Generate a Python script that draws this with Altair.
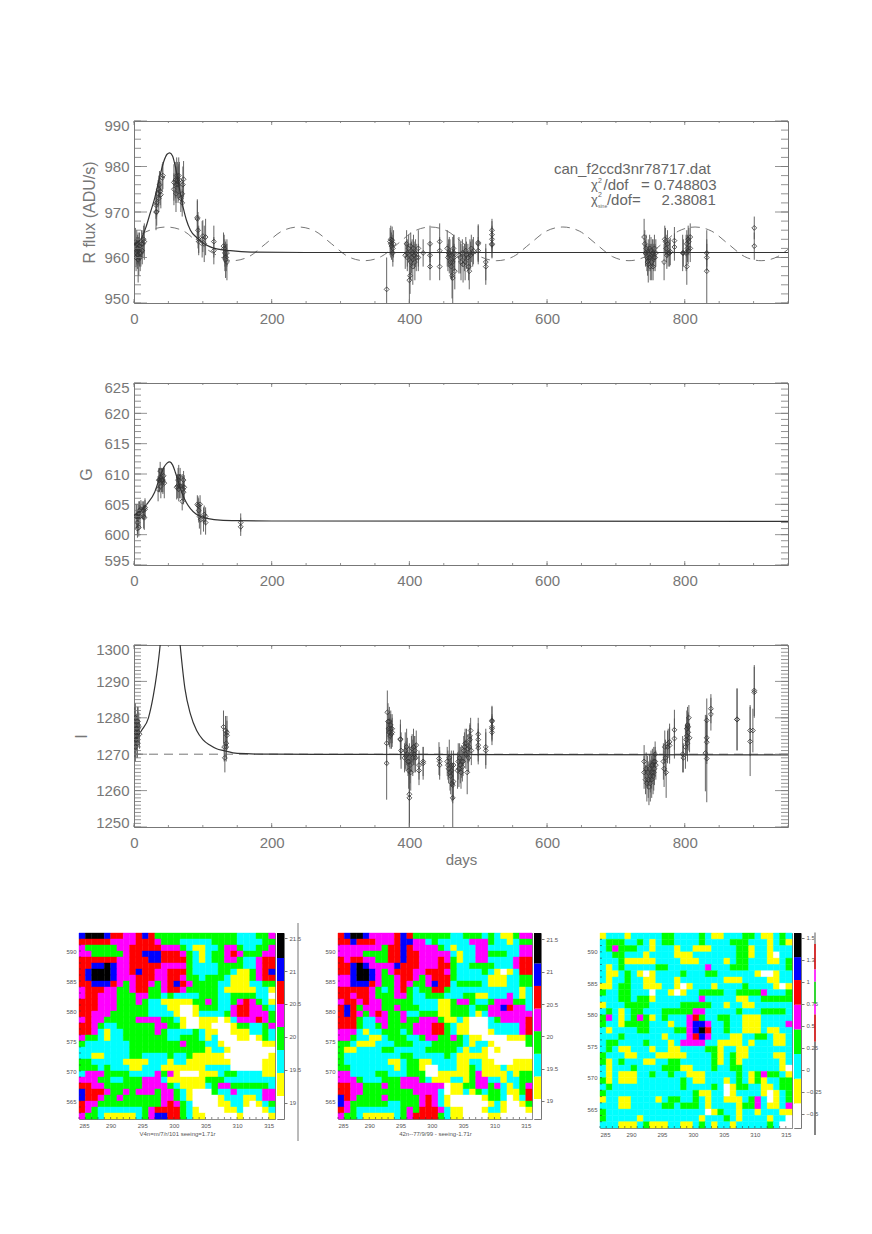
import altair as alt
import pandas as pd

# ---------- R band (x, value, error) ----------
R_pts = [(2,963.5,3),(3,961,3),(3,960,3),(4,963,3),(4,961.5,3),(5,962,3),(5,960.5,3),(6,962,3.5),(6,959.5,5),(7,961.5,3),(7,960,4),(8,962.5,3),(8,961,3),(9,960,3),(10,961,3),(11,963,3),(12,961.5,3),(13,963,3),(14,964,3),(15,963.5,4),
(32,970,4),(32,971.5,3),(33,972,3),(33,970,3),(35,974,3),(36,975,3),(36,973,3),(37,976,3),(38,974.5,3),(39,973.8,3),(41,977.5,3),(42,978,3),
(58,976.5,4),(58,975,3.5),(60,977,4),(61,974,4),(61,976,4),(62,978,4),(63,977,4),(64,976,4),(65,978,4),(65,976.5,4),(66,977,4),(68,973,3),(70,974,3),(70,972,3),(71,976,4),(72,977.2,4),
(92,968.8,4),(92,968.5,4),(93,966,4),(94,964,3),(94,963.5,3),(99,964,4),(100,964.7,3.5),(102,963,4),(104,964.5,4),(116,963.5,3.5),(116,961.5,3),
(130,962.5,3),(131,962,3),(132,961,3),(132,960,3),(133,959.5,4),(134,960,3),(135,959,4),(135,961,3),
(367,953,7),(372,963.5,3),(373,964,3),(373,963,3),(374,962.5,3),(375,963.8,3),(376,961,3),(376,962,3),(377,963,3),
(394,960.5,3),(396,963,3),(397,961,3),(397,960,3),(399,962,3),(400,955,7),(401,956,4),(402,959,4),(402,962.5,3),(403,960,3.5),(404,961,3),(405,958,4),(406,962,3),(407,960.5,3),(408,959,4),(409,961,3),(410,960,3),
(413,962,4),(413,960,3),(420,961,3),(430,963,4),(430,960.5,3),(430,958,3),(444,963.5,4),(444,961.5,3),(444,958,3),
(455,962,4),(456,960,3),(457,961,3),(458,960.5,4),(459,961,3),(460,959,3),(461,958,3),(462,956,5),(463,959,3),(463,955.5,9),(464,962,3),(465,961,4),(465,960,3),(466,957,4),
(472,960.5,4),(474,960,3.5),(475,959,4),(477,961,3),(478,958.5,4),(480,960,3),(481,959,4),(482,961.5,3),(483,960.5,3),(485,960,3),(486,958,3),(487,957,4),(488,961,3),(489,960.5,3),(490,962,3),(492,961,3),(493,961.5,3),
(500,963,4),(500,963.3,4),(500,961.5,3),(511,959,4),(511,958,4),(520,966,2.5),(520,965,3),(520,964,3),(520,963,3),(520,962.8,3),
(741,964.5,4),(742,963,3),(743,961,3),(744,962,3),(745,960,3),(746,959,3),(747,961,3),(747,958.5,4),(748,960,3),(749,962,3),(750,958,3),(750,960,3),(751,961.5,3),(752,959,4),(753,961,3),(754,958,3),(754,961,3),(755,960,3),(756,962,3),(757,960,3),(758,961,3),
(770,959,4),(771,964,3),(772,963.5,3),(773,962,3),(774,960.5,3),(775,963,3),(776,961,3),(778,961,3),(779,961.3,3),(785,963.7,3),(785,962.3,3),
(797,961,4),(798,961,3),(802,961,4),(803,958,4),(803,963,3),(804,962,3),(805,964,3),(805,961.5,3),(806,963.5,3),(808,964.5,3),(808,962,3),
(832,961,3),(832,960,3),(832,957,9),(901,966.5,2.5),(901,962.5,3)]

# ---------- G band ----------
G_pts = [(3,603,2),(4,603,2),(5,602,2),(5,601,1.5),(6,603,2),(7,601.2,1.5),(7,603.5,2),(8,604,1.5),(9,603,2),(10,604.2,1.5),(12,604,1.5),(14,604,1.5),(14,603,2),(15,602.8,2),(16,604.2,1.5),(16,604.5,1.5),
(35,607.5,2),(36,609,2),(37,609,2),(38,610.5,1.5),(38,609.5,1.5),(39,608,2),(40,609,2),(41,609,2),(42,609,2),(42,608.7,2),(43,609.7,1.5),(44,608.5,2.5),
(62,607.8,2),(63,608,2),(64,609,2),(65,607.5,2),(65,609.5,2),(66,608,2),(67,609.5,1.5),(68,608,2),(70,605.5,1.5),(71,608,2),(71,607.5,2),(72,609,1.5),(72,607,2),(73,607.8,2),
(92,605,1.5),(93,604.8,1.5),(94,604,2),(95,603,2),(96,605,1.5),(97,602.5,2.5),(101,602.5,2),(102,603.3,1.5),(104,602,2),(104,603,1.5),(155,602,1.5),(155,601.3,1.5)]

# ---------- I band ----------
I_pts = [(1,1278,5),(1,1275,6),(2,1272,4),(2,1280,4),(3,1276,5),(3,1274,5),(4,1277,4),(4,1275,4),(5,1279,4),(5,1273,4),(6,1276,4),(6,1278,5),(7,1277.5,4),(8,1275.5,4),
(130,1277.5,4.5),(131,1272,4),(132,1269,4),(133,1276.5,4),(134,1272,4),(134,1273,4),(135,1276,4.5),(135,1275.2,4),
(367,1273,6),(367,1267.5,10),(368,1281.5,6),(369,1279,5),(370,1277,4.5),(371,1279,4),(371,1276,4),(372,1275,3.5),(373,1278,4),(373,1277,4),(374,1275.5,4),(375,1277,4),(375,1276,4),
(387,1274,5.5),(387,1274.2,4),(388,1271,5),(393,1269,4),(394,1271,5),(395,1269.5,4),(396,1272,5),(397,1270,4.5),(398,1268,4),(399,1265.5,5),(400,1268,5),(400,1259,8.5),(400,1258,8.5),(401,1267,5),(402,1265,5),(403,1270,5),(404,1271.5,4),(405,1269,5),(406,1272,5),(407,1270,5),(408,1271,4),(409,1269,4),(410,1272.5,4),
(414,1267,4),(414,1265.5,4),(420,1267.5,4.5),(420,1268,4),(443,1268.8,4.5),(444,1268,4),(444,1267,4),
(455,1268,4),(456,1267,4),(457,1266,4),(458,1269,5),(459,1265,5),(460,1264,5),(461,1265.5,4.5),(461,1267,4),(462,1262,5),(463,1261.5,5),(463,1258,9.5),(464,1267,4),(464,1262.5,5),
(470,1265.5,5),(471,1268,5),(472,1266,5),(473,1269,4),(474,1267,5),(475,1265,4.5),(476,1268,4.5),(477,1266.5,4),(478,1268,4),(479,1271,4),(480,1272,4),(481,1273,4),(482,1270,4),(483,1273,4),(484,1265,6),(485,1271.5,4),(486,1269,4),(487,1272,4),(488,1275,3.5),(488,1274,4),(489,1276.5,3.5),(490,1271,4),
(500,1275.5,4.5),(500,1274,4.5),(500,1272.5,4.5),(500,1271.7,4.5),(511,1272,5),(511,1271,5),(520,1279.3,4),(520,1279,4),(520,1277.5,3.5),(520,1277,3.5),(520,1276,3.5),
(741,1268,4.5),(741,1265,4.5),(743,1263,4),(744,1266,4.5),(745,1262,5),(746,1265,4.5),(747,1263,5),(748,1261,5),(749,1266,4),(750,1264,4.5),(750,1262,5),(751,1267,4),(752,1263,5),(752,1265,4.5),(753,1267,4.5),(754,1264,5),(755,1268,4),(755,1265,5),(756,1266,4.5),(757,1268,4),(757,1270,3.5),(758,1267,4),
(769,1268,5),(770,1266,5),(771,1272,4.5),(772,1269,5),(773,1265,7),(775,1272,4.5),(776,1273,4),(778,1273.4,5),(778,1272.4,5),(785,1276.7,5.5),(785,1274.3,5.5),
(797,1270,5),(798,1269,4),(801,1272,6),(802,1274,4.5),(803,1277,5),(803,1275,5),(804,1278,5),(804,1273,5),(805,1276,5),(805,1277.5,4),(806,1280,3.5),(807,1274.5,4),
(830,1270.3,10.5),(832,1279.3,6),(832,1274.5,6),(832,1273.3,6),(832,1268.8,12),(838,1282.5,4),(838,1281,4.5),(876,1279.5,8.5),(876,1279.6,8.5),(895,1276.5,7),(895,1273.5,9.5),(899,1276.5,6),(901,1287.5,7),(901,1287,7)]

# ---------- model curves ----------
R_cx = [0,5,11,17,23,30,37,43,48,52,56,60,65,70,76,82,91,100,110,120,140,170,250,950]
R_cy = [962.7,963.3,964.3,966.5,969.5,973,977.5,981,982.7,983,982.3,980,976,972,968.3,966,964.4,963.2,962.4,961.9,961.5,961.2,961.1,961.1]
R_sx = [11,23,47,71,95,119,143,167,191,215,239,263,287,311,335,359,383,407,431,455,479,503,527,551,575,599,623,647,671,695,719,743,767,791,815,839,863,887,911,935,950]
R_sy = [965.2,966.0,966.7,965.9,963.0,960.6,959.3,960.2,963.0,965.8,966.7,965.8,963.0,960.2,959.3,960.2,963.0,965.8,966.7,965.8,963.0,960.2,959.3,960.2,963.0,965.8,966.7,965.8,963.0,960.2,959.3,960.2,963.0,965.8,966.7,965.8,963.0,960.2,959.3,960.2,961.8]
G_cx = [0,10,20,30,37,43,48,52,56,60,65,70,76,82,90,100,110,125,150,200,950]
G_cy = [603.2,604,605.2,607,609.3,611,611.8,612,611.5,610.3,608.5,606.8,605.3,604.3,603.4,602.9,602.6,602.4,602.3,602.25,602.2]
I_cx = [0,11,21,28,33,38,44,52,60,67,74,82,91,100,110,120,130,150,200,950]
I_cy = [1273.5,1276.5,1280,1286,1292,1300,1315,1325,1315,1300,1288,1281,1276.5,1274,1272.5,1271.5,1271,1270.2,1270,1269.8]
I_dx = [0,950]
I_dy = [1270,1270]

# ---------- ticks ----------
x_major = [0,200,400,600,800]
x_minor = list(range(0,951,50))
R_yticks = [950,960,970,980,990]
R_yminor = list(range(950,991,2))
G_yticks = [595,600,605,610,615,620,625]
G_yminor = list(range(595,626,1))
I_yticks = [1250,1260,1270,1280,1290,1300]
I_yminor = list(range(1250,1301,1))

# ---------- annotation ----------
NB = "\u00a0"
ann_x = [610,664,674,682,664,674,674,687]
ann_y = [979.4,975.9,976.9,975.9,972.6,973.7,971.4,972.6]
ann_t = ["can_f2ccd3nr78717.dat","\u03c7","2",f"/dof{NB}{NB}{NB}={NB}0.748803","\u03c7","2","sine",f"/dof={NB}{NB}{NB}{NB}{NB}2.38081"]
ann_s = [15,13,7,15,13,7,5,15]

# ---------- heat maps: one letter per level ----------
H1 = ["BKKKBRRMMRBRGGGGGGGGGGGGGCCCGGM","RRRRRMMMMRRRMGGGCCCCCGGGGCCCCGG","MGGGGGMMRRRRRMMMGCYYCCGMMGCCGGM","MMGGGGGMRRBBBRRRMGCYCGGMRMGGGMM","RRRRRRMMRRRBBRRRRGCYCGGMMGCCMRR","RRBBKBMMRRRRRMMMMGCCCCGGGGCCMRR","RBKKKBMMRBRRMMRRRGCCCCGGCYYGMRB","RBKKKBMMMRRRMMRRMGGCGGGCYYYGMRR","RRBBBRMGMRRMGMRBRMGGGGCCYYYCCGG","MRRRMMGGMRRGGMRRMGGGGGCYYYYYCCY","MRRMMMGGGMMGGCGCCCCGGGCCGGGGCCW","RRRMMMGGGMGCCYYYYYGGMGCCGMRMGCY","RRRMMMGGGGGCCCYYWWYGGGCCMRRMMGC","RRMMMGGGGGGCCCCYWWYCCCCGMRRMMMG","MRMMGGGGGMMMMGGCYWWYYYWYCMMMRMG","RRMGCCGGGGGGMMGGYWWYYWWWYGGCCGM","RRMCYCCGGGGGMGCCCCGCYYWWYYYCCGC","MGGCYCCGGGGGGGCCGGGCYCWWWYYWYGC","GCCCCCCCGGGGGGGGMGGGCCYWWWWWWYY","CCCCCCCCGGGGGGGGGGGGYCCYWWWWWWW","CCYYCCCCGGCCCCGCCGYYYYYWWWWWWWY","GGCCCCCYYYYCCCYCCYYYYYYYWWWWWYY","GGGCGCCCYYCCCYYYYYYYCCCCWWWWWYY","CMMMGGGGCCCCMGMYWWWYYYCGGCCCCYY","MMMGGCCGGGMMMCYYYYYYGGGCCCCCCCC","RRMMGGGGGGMMMMGCYYYYCGMMGGGGGGC","BRRRMGGMGMMMGMMGCYWWWGCCMCCCCMM","BRRMGGMGGGGGGMMGCYWWWWYCCCYYCMM","RMMGGGGGGGGGGMRMGCWWWWYYCCYWYCG","RMGCCCCCCCGMRRRRGCYWWWWYYCWWWYC","MGGCYYYYYCGMBBRRGCYYWWWWWYWWWWY"]
H2 = ["RBKKBMMMMRBRGGGGGGCCGGGCGCYYGMM","RRBRRRMMMRBBMMCGCCCCCMMMGCCYCGG","MMMMMMMGRRBRMMMMGCYCCCMMCCCCCMM","MMMMGGGGRRBRRMMMMMCYCCMMGGGCCMM","RMRRMMGGRRBRRMMMRMGYCCMMCCCCMRR","RRBKBMMMMBRRRMMMRRGCCGGGGCCCMRR","RRBKKBMGMRRRMMRRRMGCCCCGCYWYCRR","MMBKKBMGGMRRMGMRRRGCCCCCYYYCCGG","MMBBBRMGGMRMGGMBRRCGGGGCYYYCCGG","RRRRRMGCGMRGCGGRRGCCCCCCCCCCCYC","RRMRRMGGGMMGCCGGGCCCGGYYCCCMCYC","MRRMRMMGGGGGCCCCYYGMMGCCGMMMGGC","RBRGMMMGGMGGGCCCYYGGGCGGMMBRMMC","RBRMGMRMGGMCCGGGYYGGGCYCMMMMMMM","RRRGCCMMGGMGGMMMGYYCYWWWCGMMMMR","RRRGCCGMGGGGMMMRRGCYYWWWCCCCCMR","MMMCYCCGGGCGMMMRRGCYYWWWYCCCCMR","MMGCCYYCGGGCCGMMGGMGCYYWWWWYYYG","GGCYYYCCCGGGCCCGGGGGCYCCYWWWWWG","GYYCCCCGGCCCCCGGGGGCYCCYWYWWWWW","GCCCCCCCCCGGCCCCCGCYYYYYWWWWWWW","GCCCCCCCYYCGGYYCCCCYYCCYYWWWYYY","GGCCCCCCCYCGGYWWCCCYYGCYYYCYYYY","MMCCCCGGCCCGGGWWYYYYYGMYYYYCYGG","MMMGCCCGGGMMMGCYYYCCYGMMCCYCCGG","RRMMGGGMGGMMMMMMMWYYGGMMGMCYCGM","RRMMGGGGGGGGMMMMCWYYCYGCGGCYYGR","BRMGGGGMGGGGGMRMCYWWWWWYGGCWYCR","BMGGGGGGCCGGGMRMCYWWWWWWYCYWWYG","RMGCCCCCCCGMGRRRMCYYWWWYCCYWWWY","MGGCYYYYYCGMRRRRGCYYWWWWYYWWWWW"]
H3 = ["YCCCYCCCCCGGCCCCGCYYCCCGGCYYCGC","CGGGCCGCYCGGCCCCGCCCCGGGCCCYCGY","CGMGGGCCYCCCYCCYYYCCCCGGYCCYCCC","CCGGCCCYCCCCYYYCCCCCCCGGYCCYWCC","CCCGYYYYYCCCCYYYCCCCYCGGCCCYYCG","CYCGCCCCCGGCCCCCCMCCCGGGCCCCCCG","CYYCGCYWYCCCCGCCCGGCCCCCCYWWYCC","CYCCGCCYYCCCYCCCCCCCYYYCCCCYYCC","YYCGGCCYYYCCYWYCCCYCCCCGCCCCYWY","GCCGGCCCWCCYWYCCGGGGCCGGGGMCCCG","CCCGGCGGYCCCCCCCMCCCCCYYCCGGGGG","YCCCGGGGCCCCCGGGGGCCYCCYYCCCCCC","CGCYCGGCCCGGGGGMMCCCCCGCCCGGGGC","GMCYCGMGYCGCCCMRGCCGGCCYYYCCCCC","GCCYGGGGCCCYCCMBBMCCGCCYYYCCCCM","CYCCCCGGCCCCGGMBKRCCGCCYYYCYYCC","CCCGCCCCCCYCCCMRBMCCCYYCCGGCYYC","CGGCCCCGCCCYCMMMMCCYYYYCYCCCYYC","CGCYYCCCYCCYYCCCCGGYCCYYCCCCCCC","GCCCYYCCCYYYYYCCCCGYCGYYCCCCYYC","GYCGCCCYYCCGGCCCCCGYCGYCCCCCCYC","CYCCCGCCCCGGGYYCCCGCCGGCCCCCCYW","CYCYYYCCGCCGCCYYYCCCCCGCYGMGGCY","GYCYYYCCCCCCCGCYYCCCYCGCYGYCCGG","CGCCCCCCCCCCCGCCCCGCWYGGCCYYCGG","GCCCCCCCCCCCCCCGYYCCWYCCCCYWYCG","YCCYYCCCCYCGGCCGCYCCYYYCGMCWYCG","CCCYYCCCCCGGCGGGCYCCCCYGGMCYYCM","GCCCCCCCCCCCCCCCCWYGCCYCCYCCCYY","GCCCCCYCCCCCCCCCYCCCGCYCCCCYCCW","CCCYYYCGYYYCCYYCGCYCCYCCCCCGCWW"]

levels = ["W","Y","C","G","M","R","B","K"]
level_colors = ["#ffffff","#ffff00","#00ffff","#00ff00","#ff00ff","#ff0000","#0000ff","#000000"]
heat_xticks = [285,290,295,300,305,310,315]
heat_yticks = [565,570,575,580,585,590]
heat_xminor = list(range(285,316))
heat_yminor = list(range(563,593))
cb1_edges = [18.75,19.10,19.45,19.80,20.15,20.50,20.85,21.20,21.58]
cb1_ticks = [19,19.5,20,20.5,21,21.5]
cb1_dom = [18.75,21.58]
cb2_edges = [18.72,19.03,19.38,19.73,20.08,20.43,20.78,21.13,21.6]
cb2_ticks = [19,19.5,20,20.5,21,21.5]
cb2_dom = [18.72,21.6]
cb3_edges = [-0.66,-0.38,-0.10,0.18,0.46,0.74,1.02,1.28,1.554]
cb3_ticks = [-0.5,-0.25,0,0.25,0.5,0.75,1,1.25,1.5]
cb3_dom = [-0.66,1.554]
stripe_lo = [1.43,1.14,1.0,0.75,0.63,0.32,-0.74]
stripe_hi = [1.56,1.43,1.14,1.0,0.75,0.63,0.32]
stripe_c = ["#999999","#cc0000","#ff00ff","#00cc00","#ff00ff","#cc0000","#666666"]
captions = ["V4n=m/7/r/101    seeing=1.71r","42n--77/9/99 - seeing-1.71r",""]

INK = "#777777"
FONT = "Liberation Sans"
W, H = 654, 182

def ticks_layers(yscale, xscale, ymaj, ymin):
    out = []
    for vals, ln in ((ymin, 7), (ymaj, 13)):
        d = pd.DataFrame({"v": vals})
        out.append(alt.Chart(d).mark_rule(color=INK, strokeWidth=0.8).encode(
            y=alt.Y("v:Q", scale=yscale, axis=None), x=alt.value(0), x2=alt.value(ln)))
        out.append(alt.Chart(d).mark_rule(color=INK, strokeWidth=0.8).encode(
            y=alt.Y("v:Q", scale=yscale, axis=None), x=alt.value(W - ln), x2=alt.value(W)))
    for vals, ln in ((x_minor, 2), (x_major, 4)):
        d = pd.DataFrame({"v": vals})
        out.append(alt.Chart(d).mark_rule(color=INK, strokeWidth=0.8).encode(
            x=alt.X("v:Q", scale=xscale, axis=None), y=alt.value(H - ln), y2=alt.value(H)))
        out.append(alt.Chart(d).mark_rule(color=INK, strokeWidth=0.8).encode(
            x=alt.X("v:Q", scale=xscale, axis=None), y=alt.value(0), y2=alt.value(ln)))
    return out

def panel(pts, cx, cy, dx, dy, ydom, ymaj, ymin, ytitle, tx, xtitle=None, extra=None):
    xscale = alt.Scale(domain=[0, 950], nice=False, zero=False)
    yscale = alt.Scale(domain=ydom, nice=False, zero=False)
    df = pd.DataFrame(pts, columns=["x", "y", "e"])
    df["lo"] = df.y - df.e
    df["hi"] = df.y + df.e
    xax = alt.Axis(values=x_major, format="d", ticks=False, domain=False, grid=False, labelFont=FONT,
                   labelFontSize=15, labelColor=INK, labelPadding=8, labelFlush=False, title=xtitle,
                   titleFont=FONT, titleFontSize=15, titleColor=INK, titleFontWeight="normal", titlePadding=2)
    yax = alt.Axis(values=ymaj, format="d", ticks=False, domain=False, grid=False, labelFont=FONT,
                   labelFontSize=15, labelColor=INK, labelPadding=5, labelFlush=True, labelFlushOffset=3, title=ytitle,
                   titleFont=FONT, titleFontSize=16, titleColor=INK, titleFontWeight="normal",
                   titleX=tx, titleY=H / 2)
    base = alt.Chart(df).mark_rule(color="#555555", strokeWidth=0.9, clip=True).encode(
        x=alt.X("x:Q", scale=xscale, axis=xax),
        y=alt.Y("lo:Q", scale=yscale, axis=yax),
        y2="hi:Q")
    layers = [base]
    layers.append(alt.Chart(df).mark_point(shape="diamond", size=24, filled=False, color="#333333",
                                           strokeWidth=0.8, clip=True, opacity=1).encode(
        x=alt.X("x:Q", scale=xscale, axis=None), y=alt.Y("y:Q", scale=yscale, axis=None)))
    if dx:
        layers.append(alt.Chart(pd.DataFrame({"x": dx, "y": dy})).mark_line(
            color="#666666", strokeWidth=0.9, strokeDash=[9, 6], interpolate="monotone", clip=True).encode(
            x=alt.X("x:Q", scale=xscale, axis=None), y=alt.Y("y:Q", scale=yscale, axis=None)))
    layers.append(alt.Chart(pd.DataFrame({"x": cx, "y": cy})).mark_line(
        color="#333333", strokeWidth=1.2, interpolate="monotone", clip=True).encode(
        x=alt.X("x:Q", scale=xscale, axis=None), y=alt.Y("y:Q", scale=yscale, axis=None)))
    layers += ticks_layers(yscale, xscale, ymaj, ymin)
    if extra is not None:
        layers.append(extra(xscale, yscale))
    return alt.layer(*layers).resolve_axis(x="independent", y="independent").properties(width=W, height=H)

def annotation(xscale, yscale):
    d = pd.DataFrame({"x": ann_x, "y": ann_y, "t": ann_t, "s": ann_s})
    return alt.Chart(d).mark_text(align="left", baseline="middle", font=FONT, color="#666666").encode(
        x=alt.X("x:Q", scale=xscale, axis=None), y=alt.Y("y:Q", scale=yscale, axis=None),
        text="t:N", size=alt.Size("s:Q", scale=None, legend=None))

def heat(rows, w, h, caption):
    recs = [{"x": 285 + c, "x2": 286 + c, "y": 593 - r, "y2": 592 - r, "k": ch}
            for r, row in enumerate(rows) for c, ch in enumerate(row)]
    xs = alt.Scale(domain=[285, 316], nice=False, zero=False)
    ys = alt.Scale(domain=[562, 593], nice=False, zero=False)
    cs = alt.Scale(domain=levels, range=level_colors)
    xax = alt.Axis(values=heat_xticks, format="d", ticks=False, domain=False, grid=False,
                   labelFont=FONT, labelFontSize=6, labelColor="#555555", labelPadding=3,
                   title=caption or None, titleFont=FONT, titleFontSize=6, titleColor="#555555",
                   titleFontWeight="normal", titlePadding=2)
    yax = alt.Axis(values=heat_yticks, format="d", ticks=False, domain=False, grid=False,
                   labelFont=FONT, labelFontSize=6, labelColor="#555555", labelPadding=3, title=None)
    rect = alt.Chart(pd.DataFrame(recs)).mark_rect(strokeWidth=0.4).encode(
        x=alt.X("x:Q", scale=xs, axis=xax), x2="x2:Q",
        y=alt.Y("y:Q", scale=ys, axis=yax), y2="y2:Q",
        color=alt.Color("k:N", scale=cs, legend=None),
        stroke=alt.Stroke("k:N", scale=cs, legend=None))
    xt = alt.Chart(pd.DataFrame({"v": heat_xminor})).mark_rule(color="#333333", strokeWidth=0.6).encode(
        x=alt.X("v:Q", scale=xs, axis=None), y=alt.value(h - 2), y2=alt.value(h))
    yt = alt.Chart(pd.DataFrame({"v": heat_yminor})).mark_rule(color="#333333", strokeWidth=0.6).encode(
        y=alt.Y("v:Q", scale=ys, axis=None), x=alt.value(0), x2=alt.value(2))
    return alt.layer(rect, xt, yt).resolve_axis(x="independent", y="independent").properties(width=w, height=h)

def colorbar(edges, ticks, dom, h, extent=18, line=None, stripe=False):
    d = pd.DataFrame({"lo": edges[:-1], "hi": edges[1:], "k": levels})
    ys = alt.Scale(domain=dom, nice=False, zero=False)
    ax = alt.Axis(values=ticks, orient="right", format="~g", ticks=True, tickSize=3, tickColor=INK, domain=False, grid=False,
                  labelFont=FONT, labelFontSize=6, labelColor="#555555", labelPadding=2, title=None,
                  labelOverlap=False, minExtent=extent, maxExtent=extent)
    bar = alt.Chart(d).mark_rect(stroke=None).encode(
        x=alt.value(0), x2=alt.value(7),
        y=alt.Y("lo:Q", scale=ys, axis=ax), y2="hi:Q",
        color=alt.Color("k:N", scale=alt.Scale(domain=levels, range=level_colors), legend=None))
    layers = [bar]
    if line is not None:
        layers.append(alt.Chart(pd.DataFrame({"a": [0]})).mark_rule(color=INK, strokeWidth=1).encode(
            x=alt.value(line), y=alt.value(-10), y2=alt.value(h + 22)))
    if stripe:
        s = pd.DataFrame({"lo": stripe_lo, "hi": stripe_hi, "c": stripe_c})
        layers.append(alt.Chart(s).mark_rule(strokeWidth=1.6).encode(
            x=alt.value(21), y=alt.Y("lo:Q", scale=ys, axis=None), y2="hi:Q",
            color=alt.Color("c:N", scale=None, legend=None)))
    return alt.layer(*layers).resolve_scale(color="independent").resolve_axis(y="independent").properties(width=7, height=h)

p1 = panel(R_pts, R_cx, R_cy, R_sx, R_sy, [950, 990], R_yticks, R_yminor, "R flux (ADU/s)", -37, extra=annotation)
p2 = panel(G_pts, G_cx, G_cy, None, None, [595, 625], G_yticks, G_yminor, "G", -40)
p3 = panel(I_pts, I_cx, I_cy, I_dx, I_dy, [1250, 1300], I_yticks, I_yminor, "I", -45, xtitle="days")

h1 = alt.hconcat(heat(H1, 196, 186, captions[0]), colorbar(cb1_edges, cb1_ticks, cb1_dom, 186, line=21), spacing=0)
h2 = alt.hconcat(heat(H2, 194, 186, captions[1]), colorbar(cb2_edges, cb2_ticks, cb2_dom, 186, extent=23), spacing=0)
h3 = alt.hconcat(heat(H3, 192, 195, captions[2]), colorbar(cb3_edges, cb3_ticks, cb3_dom, 195, stripe=True), spacing=0)
row = alt.hconcat(h1, h2, h3, spacing=21)

panels = alt.vconcat(p1, p2, p3, spacing=52)
spacer = alt.Chart(pd.DataFrame({"a": [0]})).mark_rule(color="transparent").encode(
    x=alt.value(0)).properties(width=55, height=1, view=alt.ViewConfig(stroke="transparent"))
top = alt.hconcat(spacer, panels, spacing=0, bounds="flush")
chart = alt.vconcat(top, row, spacing=54).properties(
    padding={"left": 57, "top": 109, "right": 0, "bottom": 0}
).configure_view(stroke=INK, strokeWidth=1)

chart.save("out.html", embed_options={"renderer": "svg", "actions": False})
